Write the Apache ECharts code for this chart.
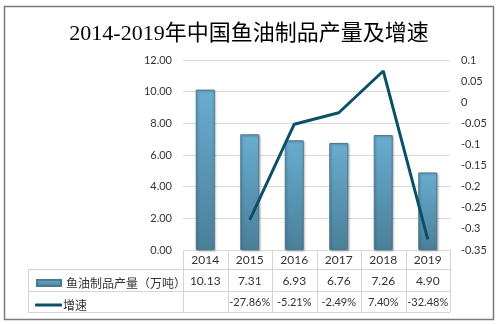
<!DOCTYPE html>
<html><head><meta charset="utf-8">
<script src="https://cdn.jsdelivr.net/npm/echarts@6/dist/echarts.min.js"></script>
<style>html,body{margin:0;padding:0;background:#fff}#c{width:498px;height:324px}</style>
</head><body><div id="c"></div>
<script>
var years = ['2014','2015','2016','2017','2018','2019'];
var production = [10.13, 7.31, 6.93, 6.76, 7.26, 4.90];
var growth = [null, -0.2786, -0.0521, -0.0249, 0.0740, -0.3248];
var barName = '鱼油制品产量（万吨）';
var lineName = '增速';
var titleText = '2014-2019年中国鱼油制品产量及增速';

var chart = echarts.init(document.getElementById('c'), null, {renderer:'canvas'});
var gL = 183, gR = 450, gT = 60, gB = 250;
var tabL = 28, rows = [250, 269, 291, 312];
var numFont = 'Lato, "Noto Sans", sans-serif';
var cjkFont = '"Noto Sans CJK SC", sans-serif';
var barColor = new echarts.graphic.LinearGradient(0,0,0,1,[{offset:0,color:'#69add0'},{offset:1,color:'#4a7f98'}]);
var lineColor = '#0c5068';

var graphics = [];
graphics.push({type:'rect', shape:{x:4.5,y:6.5,width:489,height:313}, style:{fill:null, stroke:'#7a7a7a', lineWidth:1.5}, silent:true});
var tc = '#d4d4d4';
function ln(x1,y1,x2,y2){ graphics.push({type:'line', shape:{x1:x1,y1:y1,x2:x2,y2:y2}, style:{stroke:tc, lineWidth:1}, silent:true}); }
ln(gL, rows[0]+0.5, gR, rows[0]+0.5);
ln(tabL, rows[1]+0.5, gR, rows[1]+0.5);
ln(tabL, rows[2]+0.5, gR, rows[2]+0.5);
ln(tabL, rows[3]+0.5, gR, rows[3]+0.5);
ln(tabL+0.5, rows[1], tabL+0.5, rows[3]);
var cw = (gR-gL)/years.length;
for (var i=0;i<=years.length;i++){ var x=Math.round(gL+i*cw)+0.5; ln(x, rows[0], x, rows[3]); }

function pctLabel(v){ return v==null ? '' : (v*100).toFixed(2)+'%'; }
function xl(fmt, fs){ var o={interval:0, hideOverlap:false, margin:4, fontFamily:numFont, fontSize:fs||12, color:'#333'}; if(fmt) o.formatter=fmt; return o; }

var option = {
  animation:false,
  title:{text:titleText, left:'center', top:18, textStyle:{fontFamily:'"Liberation Serif", "Noto Sans CJK SC", serif', fontSize:22, fontWeight:'normal', color:'#000'}},
  grid:{left:gL, right:498-gR, top:gT, bottom:324-gB},
  legend:[
    {data:[barName], left:31, top:272, itemWidth:24, itemHeight:6, itemGap:4, icon:'rect', textStyle:{fontFamily:cjkFont, fontSize:12, color:'#333'}, selectedMode:false},
    {data:[{name:lineName, icon:'roundRect'}], left:30, top:294, itemWidth:27, itemHeight:3, textStyle:{fontFamily:cjkFont, fontSize:12, color:'#333', padding:[0,0,0,-4]}, selectedMode:false}
  ],
  xAxis:[
    {type:'category', data:years, axisLine:{show:false}, axisTick:{show:false}, axisLabel:xl()},
    {type:'category', data:years, position:'bottom', offset:21, axisLine:{show:false}, axisTick:{show:false}, axisLabel:xl(function(v,i){return production[i].toFixed(2);})},
    {type:'category', data:years, position:'bottom', offset:43, axisLine:{show:false}, axisTick:{show:false}, axisLabel:xl(function(v,i){return pctLabel(growth[i]);}, 11)}
  ],
  yAxis:[
    {type:'value', min:0, max:12, interval:2, axisLine:{show:false}, axisTick:{show:false},
     splitLine:{lineStyle:{color:'#d9d9d9'}},
     axisLabel:{margin:11, fontFamily:numFont, fontSize:11, color:'#333', formatter:function(v){return v.toFixed(2);}}},
    {type:'value', min:-0.35, max:0.1, interval:0.05, position:'right', axisLine:{show:false}, axisTick:{show:false}, splitLine:{show:false},
     axisLabel:{margin:11, fontFamily:numFont, fontSize:11, color:'#333', formatter:function(v){return String(parseFloat(v.toFixed(2)));}}}
  ],
  series:[
    {name:barName, type:'bar', data:production, barWidth:19, xAxisIndex:0, yAxisIndex:0,
     itemStyle:{color:barColor, borderColor:'#4a7a90', borderWidth:1, shadowColor:'rgba(0,0,0,0.25)', shadowBlur:2, shadowOffsetX:1, shadowOffsetY:1}},
    {name:lineName, type:'line', data:growth.map(function(v){return v==null?'-':v;}), xAxisIndex:0, yAxisIndex:1,
     symbol:'none', lineStyle:{color:lineColor, width:3}, itemStyle:{color:lineColor}}
  ],
  graphic:graphics
};
chart.setOption(option);
</script></body></html>
